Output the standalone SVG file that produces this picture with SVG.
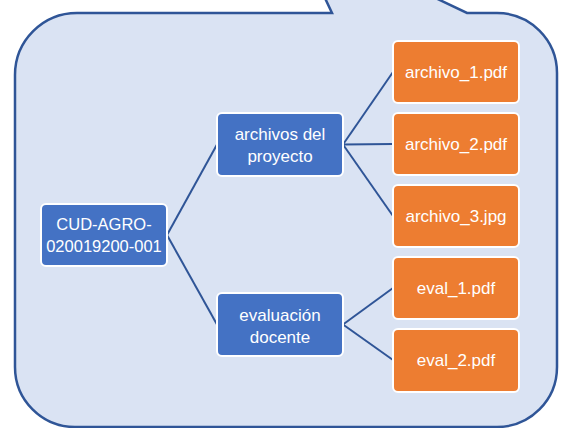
<svg xmlns="http://www.w3.org/2000/svg" width="565" height="428" viewBox="0 0 565 428">
<defs>
<style>
.bubble{fill:#DAE3F3;stroke:#2F5597;stroke-width:2.5;stroke-linejoin:miter}
.blue{fill:#4472C4;stroke:#FFFFFF;stroke-width:2}
.orange{fill:#ED7D31;stroke:#FFFFFF;stroke-width:2}
.lbl{font-family:"Liberation Sans",Arial,sans-serif;font-size:17px;fill:#FFFFFF;text-anchor:middle}
.small{font-size:16.5px}
.conn{stroke:#2F5597;stroke-width:2;fill:none}
</style>
</defs>
<rect width="565" height="428" fill="#FFFFFF"/>
<path class="bubble" d="M77,13 H332 L293,-70 L467,13 H497 A60,60 0 0 1 557,73 V367 A60,60 0 0 1 497,427 H75 A60,60 0 0 1 15,367 V75 A62,62 0 0 1 77,13 Z"/>
<g id="connectors">
<line class="conn" x1="167" y1="235" x2="217" y2="144.5"/>
<line class="conn" x1="167" y1="235" x2="217" y2="324.5"/>
<line class="conn" x1="343" y1="144.5" x2="393" y2="72"/>
<line class="conn" x1="343" y1="144.5" x2="393" y2="144"/>
<line class="conn" x1="343" y1="144.5" x2="393" y2="216"/>
<line class="conn" x1="343" y1="324.5" x2="393" y2="288"/>
<line class="conn" x1="343" y1="324.5" x2="393" y2="360"/>
</g>
<g id="root">
<rect class="blue" x="41" y="204" width="126" height="62" rx="5"/>
<text class="lbl small" x="104" y="230">CUD-AGRO-</text>
<text class="lbl small" x="104" y="252">020019200-001</text>
</g>
<g id="archivos">
<rect class="blue" x="217" y="113" width="126" height="63" rx="5"/>
<text class="lbl" x="280" y="140">archivos del</text>
<text class="lbl" x="280" y="162">proyecto</text>
</g>
<g id="evaluacion">
<rect class="blue" x="217" y="293" width="126" height="63" rx="5"/>
<text class="lbl" x="280" y="321">evaluación</text>
<text class="lbl" x="280" y="343">docente</text>
</g>
<g id="archivo1">
<rect class="orange" x="393" y="41" width="126" height="62" rx="5"/>
<text class="lbl" x="456" y="78">archivo_1.pdf</text>
</g>
<g id="archivo2">
<rect class="orange" x="393" y="113" width="126" height="62" rx="5"/>
<text class="lbl" x="456" y="150">archivo_2.pdf</text>
</g>
<g id="archivo3">
<rect class="orange" x="393" y="185" width="126" height="62" rx="5"/>
<text class="lbl" x="456" y="222">archivo_3.jpg</text>
</g>
<g id="eval1">
<rect class="orange" x="393" y="257" width="126" height="62" rx="5"/>
<text class="lbl" x="456" y="294">eval_1.pdf</text>
</g>
<g id="eval2">
<rect class="orange" x="393" y="329" width="126" height="63" rx="5"/>
<text class="lbl" x="456" y="366">eval_2.pdf</text>
</g>
</svg>
